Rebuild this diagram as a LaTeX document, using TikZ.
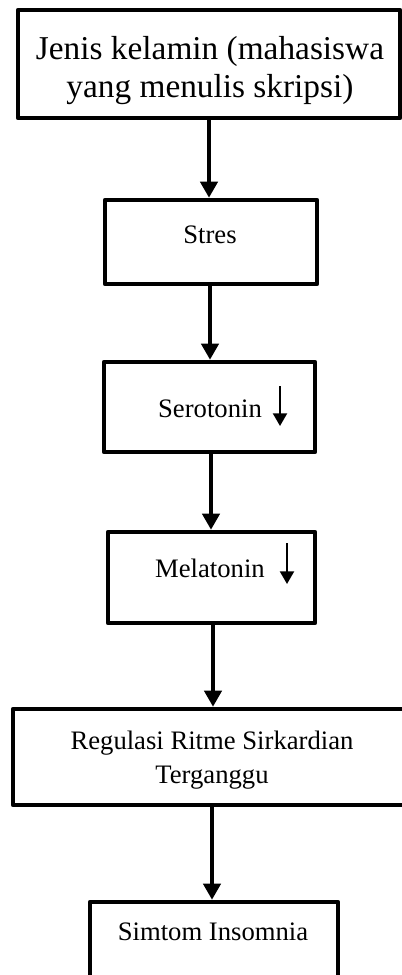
\documentclass[tikz,border=0pt]{standalone}
\usepackage{fontspec}
\setmainfont{Liberation Serif}
\usetikzlibrary{arrows.meta,fit}
\begin{document}
\begin{tikzpicture}[x=0.75pt,y=-0.75pt,
  box/.style={draw=black,line width=3.5pt,inner sep=0pt,rectangle,line join=round},
  arr/.style={draw=black,line width=2.5pt,-{Triangle[width=13pt,length=12pt]}},
  smallarr/.style={draw=black,line width=1.6pt,-{Triangle[width=10.5pt,length=9.5pt]}},
  lbl/.style={anchor=base,inner sep=0pt,align=center,font=\fontsize{20}{25}\selectfont}]
\useasboundingbox (0,0) rectangle (402,975);
\clip (0,0) rectangle (402,975);
% boxes
\node[box,fit={(18,10)(400,118)}] (b1) {};
\node[box,fit={(105,200)(317,284)}] (b2) {};
\node[box,fit={(104,362)(315,452)}] (b3) {};
\node[box,fit={(108,532)(315,623)}] (b4) {};
\node[box,fit={(13,709)(420,805)}] (b5) {};
\node[box,fit={(90,902)(338,990)}] (b6) {};
% texts (anchor base = last line)
\node[lbl,font=\fontsize{25}{28}\selectfont] (t1) at (210,97) {Jenis kelamin (mahasiswa\\yang menulis skripsi)};
\node[lbl] (t2) at (210,243) {Stres};
\node[lbl] (t3) at (210,417) {Serotonin};
\node[lbl] (t4) at (210,577) {Melatonin};
\node[lbl] (t5) at (212,783) {Regulasi Ritme Sirkardian\\Terganggu};
\node[lbl] (t6) at (213,940) {Simtom Insomnia};
% small down arrows
\coordinate (s3a) at (280,386);
\coordinate (s3b) at (280,426);
\coordinate (s4a) at (287,543);
\coordinate (s4b) at (287,584);
\draw[smallarr] (s3a) -- (s3b);
\draw[smallarr] (s4a) -- (s4b);
% connectors
\draw[arr] (b1.south -| 209,0) -- (b2.north -| 209,0);
\draw[arr] (b2.south -| 210,0) -- (b3.north -| 210,0);
\draw[arr] (b3.south -| 211,0) -- (b4.north -| 211,0);
\draw[arr] (b4.south -| 213,0) -- (b5.north -| 213,0);
\draw[arr] (b5.south -| 212,0) -- (b6.north -| 212,0);
\end{tikzpicture}
\end{document}
